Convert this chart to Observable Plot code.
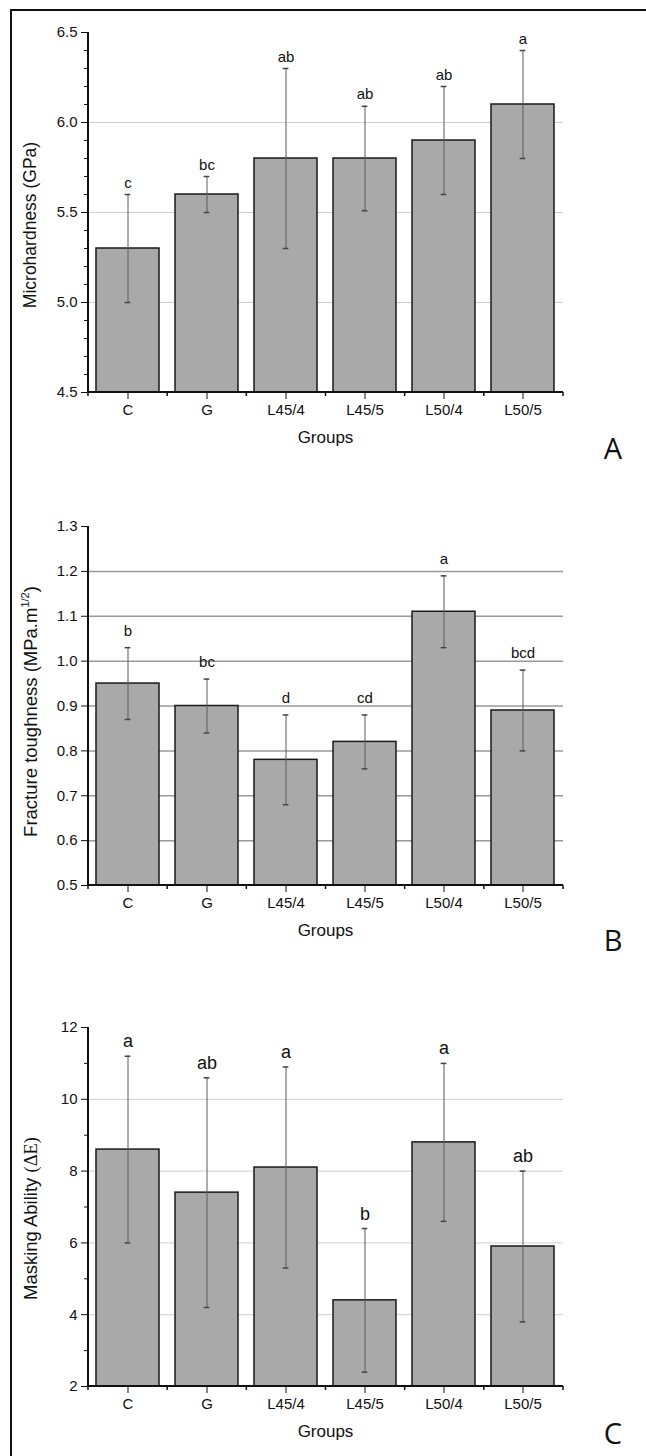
<!DOCTYPE html>
<html><head><meta charset="utf-8">
<script src="https://cdn.jsdelivr.net/npm/d3@7"></script>
<script src="https://cdn.jsdelivr.net/npm/@observablehq/plot@0.6"></script>
<style>
html,body{margin:0;padding:0;background:#fff;overflow:hidden;}
#wrap{position:relative;width:646px;height:1456px;overflow:hidden;background:#fff;}
#topline{position:absolute;left:10px;top:9px;width:700px;height:2px;background:#111;}
#leftline{position:absolute;left:10px;top:9px;width:2px;height:1500px;background:#111;}
#wrap svg{position:absolute;left:0;}
</style></head>
<body><div id="wrap"><div id="topline"></div><div id="leftline"></div></div>
<script>
// ---- data ----
const groups = ["C", "G", "L45/4", "L45/5", "L50/4", "L50/5"];

const hardMean = [5.3, 5.6, 5.8, 5.8, 5.9, 6.1];
const hardLow = [5.0, 5.5, 5.3, 5.51, 5.6, 5.8];
const hardHigh = [5.6, 5.7, 6.3, 6.09, 6.2, 6.4];
const hardLetters = ["c", "bc", "ab", "ab", "ab", "a"];
const hardTicks = [4.5, 5.0, 5.5, 6.0, 6.5];
const hardMinor = [4.6, 4.7, 4.8, 4.9, 5.1, 5.2, 5.3, 5.4, 5.6, 5.7, 5.8, 5.9, 6.1, 6.2, 6.3, 6.4];
const hardGrid = [5.0, 5.5, 6.0];

const toughMean = [0.95, 0.90, 0.78, 0.82, 1.11, 0.89];
const toughLow = [0.87, 0.84, 0.68, 0.76, 1.03, 0.80];
const toughHigh = [1.03, 0.96, 0.88, 0.88, 1.19, 0.98];
const toughLetters = ["b", "bc", "d", "cd", "a", "bcd"];
const toughTicks = [0.5, 0.6, 0.7, 0.8, 0.9, 1.0, 1.1, 1.2, 1.3];
const toughGrid = [0.6, 0.7, 0.8, 0.9, 1.0, 1.1, 1.2];

const maskMean = [8.6, 7.4, 8.1, 4.4, 8.8, 5.9];
const maskLow = [6.0, 4.2, 5.3, 2.4, 6.6, 3.8];
const maskHigh = [11.2, 10.6, 10.9, 6.4, 11.0, 8.0];
const maskLetters = ["a", "ab", "a", "b", "a", "ab"];
const maskTicks = [2, 4, 6, 8, 10, 12];
const maskMinor = [3, 5, 7, 9, 11];
const maskGrid = [4, 6, 8, 10];

const xLabel = "Groups";
const panelTags = ["A", "B", "C"];

// ---- drawing ----
const W = 646, ML = 88, MR = 646 - 563;
const FONT = '"Liberation Sans", Arial, sans-serif';
const TICK_FS = 15;

function panel(cfg) {
  const rows = groups.map((g, i) => ({g, mean: cfg.mean[i], lo: cfg.lo[i], hi: cfg.hi[i], letter: cfg.letters[i]}));
  const base = cfg.domain[0];
  const step = (W - ML - MR) / groups.length;
  const bw = step * 0.8;
  const capInset = (bw - 6) / 2;
  const marks = [
    Plot.ruleY(cfg.grid, {stroke: cfg.gridColor, strokeWidth: cfg.gridWidth}),
    Plot.barY(rows, {x: "g", y1: () => base, y2: "mean", fill: "#a9a9a9", stroke: "#1a1a1a", strokeWidth: 1.5}),
    Plot.ruleX(rows, {x: "g", y1: "lo", y2: "hi", stroke: "#5a5a5a", strokeWidth: 1}),
    Plot.tickY(rows, {x: "g", y: "lo", stroke: "#444", strokeWidth: 1.5, insetLeft: capInset, insetRight: capInset}),
    Plot.tickY(rows, {x: "g", y: "hi", stroke: "#444", strokeWidth: 1.5, insetLeft: capInset, insetRight: capInset}),
    Plot.text(rows, {x: "g", y: "hi", text: "letter", lineAnchor: "bottom", dy: -cfg.letterDy, fontSize: cfg.letterSize, fill: "#111"}),
    Plot.axisY({ticks: cfg.ticks, tickSize: 7, tickPadding: 4, tickFormat: cfg.fmt, label: null, fontSize: TICK_FS}),
    Plot.axisX({tickSize: 7, tickPadding: 5, label: null, fontSize: TICK_FS})
  ];
  if (cfg.minor) marks.push(Plot.axisY({ticks: cfg.minor, tickSize: 4, tickFormat: () => "", label: null}));
  const plot = Plot.plot({
    width: W, height: cfg.height,
    marginLeft: ML, marginRight: MR, marginTop: cfg.marginTop, marginBottom: cfg.marginBottom,
    style: {fontFamily: FONT, fontSize: TICK_FS + "px", color: "#111", background: "transparent", overflow: "visible"},
    x: {domain: groups, paddingInner: 0.2, paddingOuter: 0.1, axis: null},
    y: {domain: cfg.domain, axis: null},
    marks
  });
  plot.style.top = cfg.top + "px";
  const svg = d3.select(plot);
  const yb = cfg.height - cfg.marginBottom;
  const x0 = ML, x1 = W - MR;
  // axis lines
  svg.append("line").attr("x1", x0).attr("x2", x0).attr("y1", cfg.marginTop).attr("y2", yb + 1).attr("stroke", "#111").attr("stroke-width", 2);
  svg.append("line").attr("x1", x0 - 1).attr("x2", x1).attr("y1", yb).attr("y2", yb).attr("stroke", "#111").attr("stroke-width", 2);
  // band boundary ticks
  for (let i = 0; i <= groups.length; i++) {
    const xx = x0 + i * step;
    svg.append("line").attr("x1", xx).attr("x2", xx).attr("y1", yb).attr("y2", yb + 4).attr("stroke", "#111").attr("stroke-width", 1.5);
  }
  // x label
  svg.append("text").attr("x", (x0 + x1) / 2).attr("y", yb + 51).attr("text-anchor", "middle")
    .attr("font-size", 17).attr("font-family", FONT).attr("fill", "#111").text(xLabel);
  // y label
  const cy = (cfg.marginTop + yb) / 2 + cfg.labelShift;
  const t = svg.append("text").attr("transform", `translate(${cfg.labelX},${cy}) rotate(-90)`)
    .attr("text-anchor", "middle").attr("font-size", cfg.labelSize).attr("font-family", FONT).attr("fill", "#111");
  cfg.label(t);
  // panel tag
  svg.append("text").attr("x", 613).attr("y", cfg.tagY).attr("font-size", 29)
    .attr("font-family", '"Open Sans", "Noto Sans", sans-serif').attr("fill", "#111").text(cfg.tag);
  document.getElementById("wrap").appendChild(plot);
}

panel({
  top: 0, height: 480, marginTop: 32, marginBottom: 88,
  domain: [4.5, 6.5], ticks: hardTicks, minor: hardMinor, fmt: d3.format(".1f"),
  grid: hardGrid, gridColor: "#cfcfcf", gridWidth: 1,
  mean: hardMean, lo: hardLow, hi: hardHigh, letters: hardLetters, letterSize: 15, letterDy: 7,
  labelX: 36, labelShift: 13, labelSize: 17.5,
  label: t => t.text("Microhardness (GPa)"),
  tag: panelTags[0], tagY: 459
});

panel({
  top: 480, height: 480, marginTop: 46, marginBottom: 75,
  domain: [0.5, 1.3], ticks: toughTicks, minor: null, fmt: d3.format(".1f"),
  grid: toughGrid, gridColor: "#9a9a9a", gridWidth: 1.5,
  mean: toughMean, lo: toughLow, hi: toughHigh, letters: toughLetters, letterSize: 15, letterDy: 12,
  labelX: 37, labelShift: 6, labelSize: 18.5,
  label: t => {
    t.append("tspan").text("Fracture toughness (MPa.m");
    t.append("tspan").attr("font-size", 11).attr("dy", -8).text("1/2");
    t.append("tspan").attr("dy", 8).text(")");
  },
  tag: panelTags[1], tagY: 951 - 480
});

panel({
  top: 960, height: 496, marginTop: 67, marginBottom: 70,
  domain: [2, 12], ticks: maskTicks, minor: maskMinor, fmt: d3.format("d"),
  grid: maskGrid, gridColor: "#cfcfcf", gridWidth: 1,
  mean: maskMean, lo: maskLow, hi: maskHigh, letters: maskLetters, letterSize: 18, letterDy: 9,
  labelX: 37, labelShift: 12, labelSize: 18.5,
  label: t => {
    t.append("tspan").text("Masking Ability ");
    t.append("tspan").attr("font-family", '"Liberation Serif", "DejaVu Serif", serif').text("(ΔE)");
  },
  tag: panelTags[2], tagY: 1444 - 960
});
</script>
</body></html>
